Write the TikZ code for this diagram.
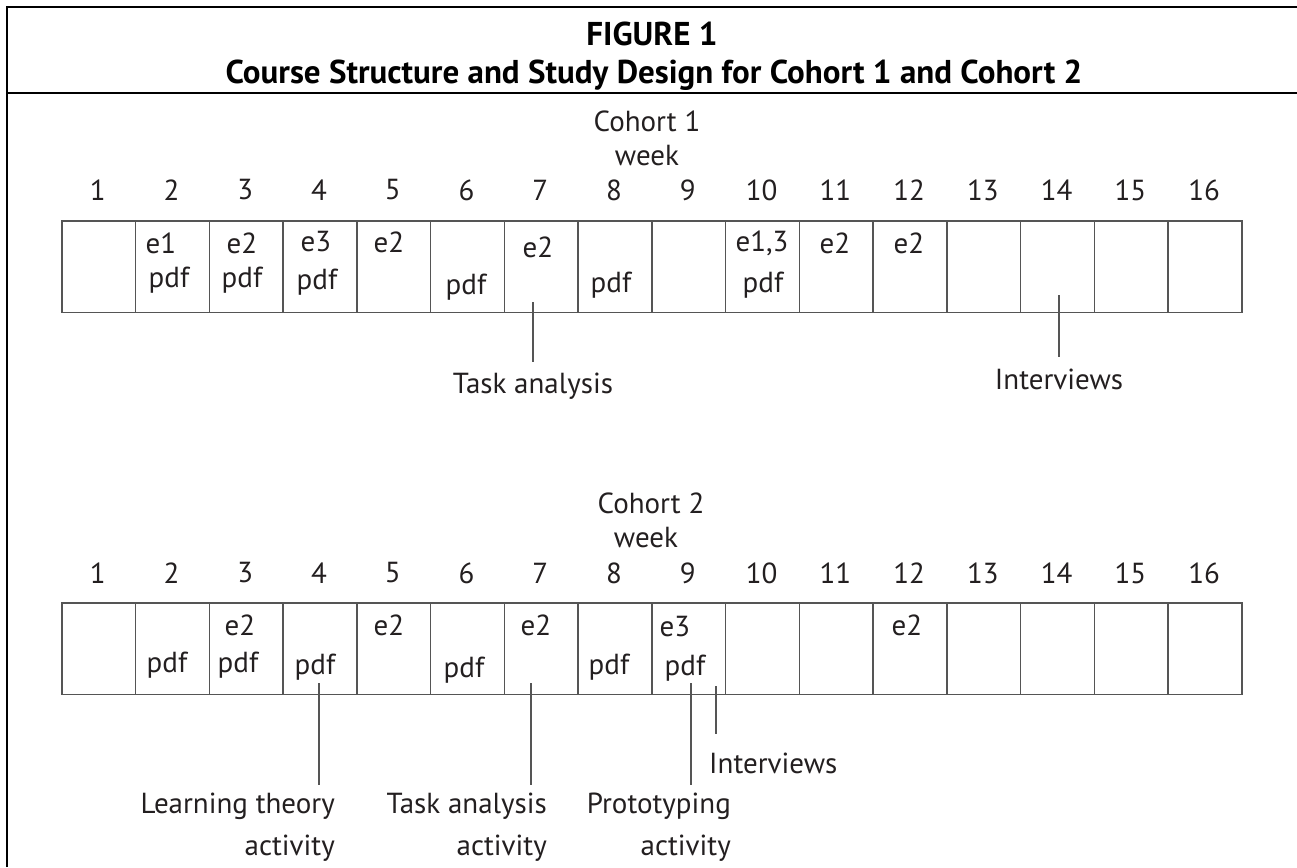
\documentclass[tikz,border=0pt]{standalone}
\usepackage{fontspec}
\setmainfont{PT Sans}
\definecolor{rule}{HTML}{555555}
\definecolor{ink}{HTML}{231F20}

\begin{document}
\begin{tikzpicture}[x=1pt,y=-1pt,
  cell/.style={draw=rule, line width=1.6pt, minimum width=73.75pt, minimum height=91.5pt, inner sep=0pt, anchor=north west},
  lbl/.style={text=ink, font=\fontsize{29}{42}\selectfont, inner sep=0pt},
  head/.style={text=black, font=\fontsize{33}{38}\selectfont\bfseries, inner sep=0pt},
  tick/.style={draw=rule, line width=1.6pt}]
\useasboundingbox (0,0) rectangle (1297,867);

% frame and title
\draw[line width=1.8pt] (7,867) -- (7,7) -- (1297,7);
\draw[line width=1.8pt] (7,93) -- (1297,93);
\node[head] (fig) at (652,34) {FIGURE 1};
\node[head] (title) at (654,75) {Course Structure and Study Design for Cohort 1 and Cohort 2};

% cohort 1
\node[lbl] (coha) at (647,121) {Cohort 1};
\node[lbl] (weeka) at (647,156) {week};
\foreach \i in {1,...,16} {
  \node[lbl] (wa\i) at ({61+(\i-0.5)*73.75},190) {\i};
  \node[cell] (a\i) at ({61+(\i-1)*73.75},220) {};
}
\node[lbl] (a2e) at (161,243) {e1};
\node[lbl] (a2p) at (169,280) {pdf};
\node[lbl] (a3e) at (242,243) {e2};
\node[lbl] (a3p) at (242,280) {pdf};
\node[lbl] (a4e) at (316,242) {e3};
\node[lbl] (a4p) at (317,282) {pdf};
\node[lbl] (a5e) at (389,242) {e2};
\node[lbl] (a6p) at (466,287) {pdf};
\node[lbl] (a7e) at (538,247) {e2};
\node[lbl] (a8p) at (611,285) {pdf};
\node[lbl] (a10e) at (762,243) {e1,3};
\node[lbl] (a10p) at (763,285) {pdf};
\node[lbl] (a11e) at (835,243) {e2};
\node[lbl] (a12e) at (909,243) {e2};

\coordinate (ka7) at (533,302);
\coordinate (kb7) at (533,362);
\draw[tick] (ka7) -- (kb7);
\node[lbl] (taska) at (533,386) {Task analysis};
\coordinate (ka14) at (1059,295);
\coordinate (kb14) at (1059,357);
\draw[tick] (ka14) -- (kb14);
\node[lbl] (inta) at (1059,379) {Interviews};

% cohort 2
\node[lbl] (cohb) at (651,503) {Cohort 2};
\node[lbl] (weekb) at (646,538) {week};
\foreach \i in {1,...,16} {
  \node[lbl] (wb\i) at ({61+(\i-0.5)*73.75},573) {\i};
  \node[cell] (b\i) at ({61+(\i-1)*73.75},602) {};
}
\node[lbl] (b2p) at (167,665) {pdf};
\node[lbl] (b3e) at (240,625) {e2};
\node[lbl] (b3p) at (238,665) {pdf};
\node[lbl] (b4p) at (315,667) {pdf};
\node[lbl] (b5e) at (389,625) {e2};
\node[lbl] (b6p) at (464,670) {pdf};
\node[lbl] (b7e) at (536,625) {e2};
\node[lbl] (b8p) at (609,667) {pdf};
\node[lbl] (b9e) at (675,627) {e3};
\node[lbl] (b9p) at (685,668) {pdf};
\node[lbl] (b12e) at (907,625) {e2};

\coordinate (kc4) at (319,683);
\coordinate (kd4) at (319,785);
\draw[tick] (kc4) -- (kd4);
\node[lbl, align=right, anchor=north east] (learn) at (335,793) {Learning theory\\activity};
\coordinate (kc7) at (531,683);
\coordinate (kd7) at (531,785);
\draw[tick] (kc7) -- (kd7);
\node[lbl, align=right, anchor=north east] (taskb) at (547,793) {Task analysis\\activity};
\coordinate (kc9) at (691,683);
\coordinate (kd9) at (691,785);
\draw[tick] (kc9) -- (kd9);
\node[lbl, align=right, anchor=north east] (proto) at (731,793) {Prototyping\\activity};
\coordinate (ke9) at (716,686);
\coordinate (kf9) at (716,734);
\draw[tick] (ke9) -- (kf9);
\node[lbl, anchor=west] (intb) at (709,763) {Interviews};
\end{tikzpicture}
\end{document}
